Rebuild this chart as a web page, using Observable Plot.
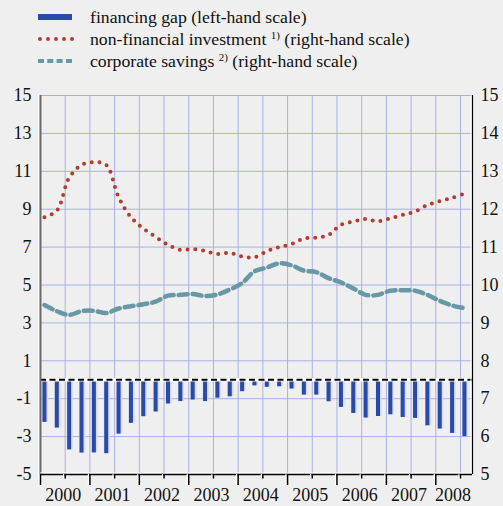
<!DOCTYPE html>
<html><head><meta charset="utf-8">
<script src="https://cdn.jsdelivr.net/npm/d3@7"></script>
<script src="https://cdn.jsdelivr.net/npm/@observablehq/plot@0.6"></script>
<style>
body{margin:0;background:#efefef;font-family:"Liberation Serif","Times New Roman",Times,"DejaVu Serif",serif;}
#legend{position:relative;height:72px;width:503px;}
.row{position:absolute;left:0;height:22px;line-height:22px;font-size:17.7px;color:#111;white-space:nowrap;width:503px;}
.row svg{position:absolute;left:36px;top:0;}
.row .t{position:absolute;left:90px;top:0;}
.row sup{font-size:11px;vertical-align:0;position:relative;top:-6px;}
#chart svg{display:block;}
#chart svg text{font-family:"Liberation Serif","Times New Roman",Times,"DejaVu Serif",serif;}
</style></head><body>
<div id="legend">
  <div class="row" style="top:6px"><svg width="40" height="22"><rect x="2" y="8" width="34" height="6" fill="#2a4aa8"/></svg><span class="t">financing gap (left-hand scale)</span></div>
  <div class="row" style="top:28px"><svg width="40" height="22"><g fill="#b53a2f"><circle cx="4" cy="11" r="2"/><circle cx="12" cy="11" r="2"/><circle cx="20" cy="11" r="2"/><circle cx="28" cy="11" r="2"/><circle cx="36" cy="11" r="2"/></g></svg><span class="t">non-financial investment <sup>1)</sup> (right-hand scale)</span></div>
  <div class="row" style="top:50px"><svg width="40" height="22"><g fill="#6897a6"><rect x="2" y="9" width="6" height="4"/><rect x="11.3" y="9" width="6" height="4"/><rect x="20.6" y="9" width="6" height="4"/><rect x="30" y="9" width="6" height="4"/></g></svg><span class="t">corporate savings <sup>2)</sup> (right-hand scale)</span></div>
</div>
<div id="chart"></div>
<script>
const quarters = [
  "2000Q1","2000Q2","2000Q3","2000Q4","2001Q1","2001Q2","2001Q3","2001Q4",
  "2002Q1","2002Q2","2002Q3","2002Q4","2003Q1","2003Q2","2003Q3","2003Q4",
  "2004Q1","2004Q2","2004Q3","2004Q4","2005Q1","2005Q2","2005Q3","2005Q4",
  "2006Q1","2006Q2","2006Q3","2006Q4","2007Q1","2007Q2","2007Q3","2007Q4",
  "2008Q1","2008Q2","2008Q3"
];
// financing gap, left-hand scale
const financingGap = [-2.25,-2.55,-3.7,-3.87,-3.86,-3.9,-2.87,-2.3,-1.95,-1.7,
  -1.28,-1.15,-1.07,-1.15,-0.97,-0.9,-0.63,-0.32,-0.4,-0.37,
  -0.49,-0.81,-0.81,-1.16,-1.46,-1.78,-2.02,-1.94,-1.85,-1.99,
  -2.04,-2.43,-2.6,-2.83,-3.0];
// non-financial investment, right-hand scale
const investment = [11.79,11.96,12.83,13.17,13.24,13.17,12.32,11.79,11.49,11.27,
  11.06,10.93,10.95,10.90,10.82,10.85,10.75,10.73,10.89,11.00,
  11.08,11.23,11.25,11.32,11.59,11.67,11.74,11.68,11.76,11.85,
  11.94,12.11,12.21,12.30,12.41];
// corporate savings, right-hand scale
const savings = [9.47,9.31,9.21,9.31,9.32,9.26,9.38,9.44,9.49,9.56,
  9.72,9.74,9.76,9.71,9.75,9.88,10.05,10.36,10.46,10.57,
  10.52,10.38,10.34,10.18,10.07,9.91,9.74,9.74,9.85,9.86,
  9.85,9.74,9.58,9.46,9.39];
const years = [2000,2001,2002,2003,2004,2005,2006,2007,2008];
const leftTicks = [15,13,11,9,7,5,3,1,-1,-3,-5];
const rightTicks = [15,14,13,12,11,10,9,8,7,6,5];

const X0 = 2000, X1 = 2008.743;
const QOFF = 0.08;
const toT = q => +q.slice(0,4) + (+q.slice(5) - 1) / 4 + QOFF;
const right2left = r => 2 * r - 15;

const gapData = quarters.map((q, i) => ({x: toT(q), v: financingGap[i]}));
const invData = quarters.map((q, i) => ({x: toT(q), v: right2left(investment[i])}));
const savData = quarters.map((q, i) => ({x: toT(q), v: right2left(savings[i])}));
const gridX = years.flatMap(y => [y, y + 0.5]).filter(x => x > X0 && x < X1);
const halfYears = years.map(y => y + 0.5);

const grid = "#aab0e6";
const blue = "#2a4aa8";
const FONT = "Liberation Serif, Times New Roman, Times, DejaVu Serif, serif";

const chart = Plot.plot({
  width: 503, height: 434,
  marginTop: 23, marginBottom: 32, marginLeft: 40, marginRight: 31,
  style: {background: "#efefef", fontFamily: FONT, fontSize: "18px", color: "#111"},
  x: {type: "linear", domain: [X0, X1], axis: null},
  y: {domain: [-5, 15], axis: null},
  marks: [
    Plot.ruleY(leftTicks.filter(d => d > -5), {y: d => d, stroke: grid, strokeWidth: 1}),
    Plot.ruleX(gridX, {x: d => d, stroke: grid, strokeWidth: 1}),
    Plot.ruleX(gapData, {x: "x", y1: 0, y2: "v", stroke: "#d3d9f0", strokeWidth: 6, dx: 0.6}),
    Plot.ruleX(gapData, {x: "x", y1: 0, y2: "v", stroke: blue, strokeWidth: 4}),
    Plot.ruleY([0], {stroke: "white", strokeWidth: 3.5}),
    Plot.ruleY([0], {stroke: "black", strokeWidth: 2.2, strokeDasharray: "6,3.5"}),
    Plot.line(savData, {x: "x", y: "v", curve: "catmull-rom", stroke: "#6897a6", strokeWidth: 4.5, strokeDasharray: "9,5"}),
    Plot.line(invData, {x: "x", y: "v", curve: "catmull-rom", stroke: "#b53a2f", strokeWidth: 4, strokeDasharray: "0,7.8", strokeLinecap: "round"}),
    // axis lines
    Plot.ruleX([X0], {x: d => d, stroke: "white", strokeWidth: 1, dx: -2}),
    Plot.ruleX([X0], {x: d => d, stroke: "#6b6b6b", strokeWidth: 2}),
    Plot.ruleX([X1], {x: d => d, stroke: "white", strokeWidth: 1, dx: -1.5}),
    Plot.ruleX([X1], {x: d => d, stroke: "black", strokeWidth: 1.2}),
    Plot.ruleY([-5], {y: d => d, stroke: "white", strokeWidth: 1, dy: -1.5}),
    Plot.ruleY([-5], {y: d => d, stroke: "black", strokeWidth: 1.5}),
    // x ticks (long at year starts, short at mid-year), with white shadow
    Plot.axisX(years, {tickSize: 11, tickFormat: () => "", label: null, stroke: "white", strokeWidth: 1.2, dx: -1.5}),
    Plot.axisX(years, {tickSize: 11, tickFormat: () => "", label: null, stroke: "black", strokeWidth: 1.5}),
    Plot.axisX(halfYears, {tickSize: 4.5, tickFormat: () => "", label: null, stroke: "white", strokeWidth: 1.2, dx: -1.5}),
    Plot.axisX(halfYears, {tickSize: 4.5, tickFormat: () => "", label: null, stroke: "black", strokeWidth: 1.5}),
    // labels
    Plot.text(years, {x: d => Math.min(d + 0.5, X1 - 0.354), y: -5, dy: 21, dx: -2, text: d => String(d), fontSize: 18, fill: "#111", fontFamily: FONT}),
    Plot.text(leftTicks, {x: X0, y: d => d, text: d => (d < 0 ? "-" + Math.abs(d) : String(d)), dx: -9, textAnchor: "end", fontSize: 18, fill: "#111", fontFamily: FONT}),
    Plot.text(rightTicks, {x: X1, y: d => right2left(d), text: d => String(d), dx: 8, textAnchor: "start", fontSize: 18, fill: "#111", fontFamily: FONT})
  ]
});
document.getElementById("chart").appendChild(chart);
</script>
</body></html>
